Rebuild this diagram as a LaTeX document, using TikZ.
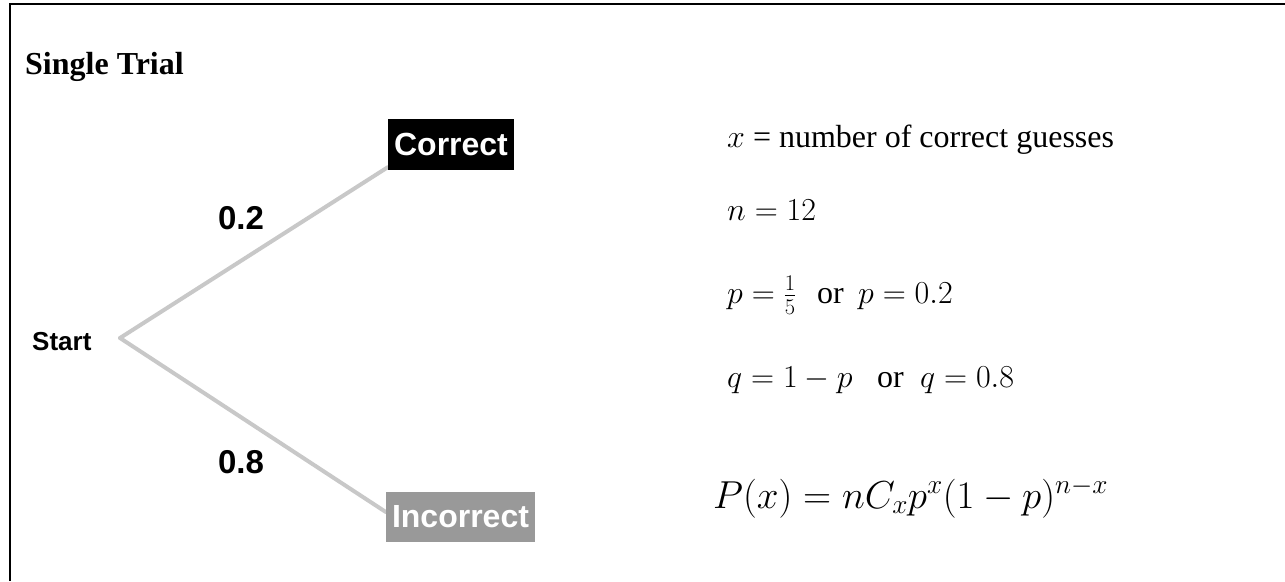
\documentclass[tikz,border=0pt]{standalone}
\usepackage{fix-cm}
\usepackage{fontspec}
\setmainfont{Liberation Serif}
\newfontfamily\helv{Liberation Sans}
\usetikzlibrary{calc,backgrounds}
\definecolor{branchgray}{RGB}{200,200,200}
\definecolor{incgray}{RGB}{153,153,153}
\begin{document}
\begin{tikzpicture}[x=1pt,y=-1pt,
  txt/.style={inner sep=0pt, anchor=base west, font=\fontsize{32}{38}\selectfont},
  lab/.style={inner sep=0pt, font=\helv\bfseries\fontsize{33}{40}\selectfont},
  outcome/.style={inner sep=0pt, text=white, font=\helv\bfseries\fontsize{32}{38}\selectfont},
  branch/.style={draw=branchgray, line width=4pt, line cap=round, line join=round}]
\useasboundingbox (0,0) rectangle (1285,581);
\draw[line width=2pt] (10,581) -- (10,4.2) -- (1285,4.2);

\node[txt, font=\bfseries\fontsize{32}{38}\selectfont] (title) at (25,74) {Single Trial};

\node[inner sep=0pt, anchor=base west, font=\helv\bfseries\fontsize{26}{30}\selectfont] (start) at (32,350) {Start};
\coordinate (v) at (120,338);
\node[outcome, fill=black, minimum width=126pt, minimum height=51pt] (corr) at (451,144.5) {Correct};
\node[outcome, fill=incgray, minimum width=149pt, minimum height=50pt] (inc) at (460.5,517) {Incorrect};
\begin{scope}[on background layer]
\draw[branch] (v) -- ($(corr.south west)+(0,-3)$);
\draw[branch] (v) -- ($(inc.west)+(0,-5)$);
\end{scope}
\node[lab] (p2) at (241,218) {0.2};
\node[lab] (p8) at (241,462) {0.8};

\node[txt] (xdef) at (727,147) {$x$ = number of correct guesses};
\node[txt] (ndef) at (727,220) {$n=12$};
\node[txt] (pdef) at (727,303) {$p=\frac{1}{5}$};
\node[txt] (or1) at (817,303) {or};
\node[txt] (pdec) at (858,303) {$p=0.2$};
\node[txt] (qdef) at (727,387) {$q=1-p$};
\node[txt] (or2) at (877,387) {or};
\node[txt] (qdec) at (920,387) {$q=0.8$};
\node[txt, font=\fontsize{39}{46}\selectfont] (pmf) at (713,508) {$P(x)=nC_xp^x(1-p)^{n-x}$};
\end{tikzpicture}
\end{document}
